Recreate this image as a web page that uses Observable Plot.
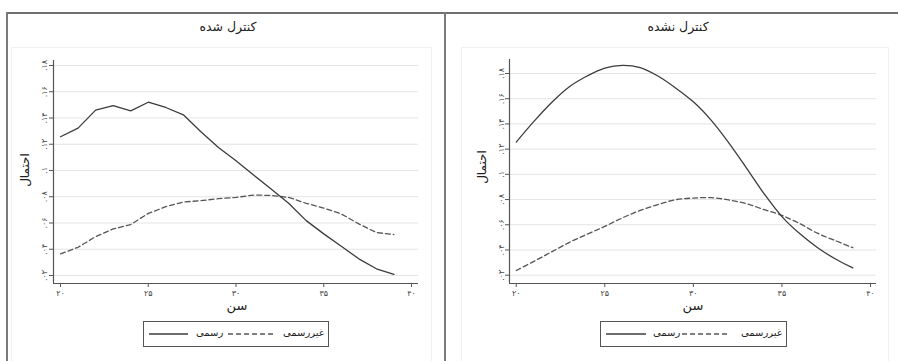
<!DOCTYPE html>
<html><head><meta charset="utf-8">
<script src="https://cdn.jsdelivr.net/npm/d3@7"></script>
<script src="https://cdn.jsdelivr.net/npm/@observablehq/plot@0.6"></script>
<style>
html,body{margin:0;padding:0;background:#fff;}
body{width:898px;height:361px;position:relative;overflow:hidden;font-family:"DejaVu Sans",sans-serif;color:#333;}
.abs{position:absolute;}
.fa{direction:rtl;white-space:nowrap;}
.title{font-size:12.5px;text-align:center;top:19px;height:16px;line-height:16px;color:#222;}
.ytitle{font-size:12px;width:60px;height:16px;line-height:16px;text-align:center;transform:rotate(-90deg);color:#222;}
.xtitle{font-size:13px;width:40px;text-align:center;top:298px;height:16px;line-height:16px;color:#222;}
.legend{border:1px solid #555;height:24px;top:321px;background:#fff;}
.legend .t{position:absolute;top:4px;font-size:10px;line-height:14px;color:#222;}
</style></head><body>
<script>
// ---- data ----
const ages = [20,21,22,23,24,25,26,27,28,29,30,31,32,33,34,35,36,37,38,39];
// Left panel: controlled (کنترل شده)
const leftFormal   = [.1257,.1323,.1460,.1494,.1454,.1520,.1480,.1424,.1295,.1175,.1075,.0965,.0859,.0750,.0618,.0517,.0423,.0327,.0251,.0208];
const leftInformal = [.0365,.0415,.0496,.0555,.0588,.0673,.0724,.0760,.0770,.0785,.0795,.0813,.0810,.0795,.0750,.0714,.0669,.0593,.0527,.0512];
// Right panel: uncontrolled (کنترل نشده)
const rightFormal   = [.1256,.1420,.1570,.1695,.1780,.1843,.1865,.1847,.1780,.1685,.1575,.1430,.1250,.1050,.0845,.0665,.0530,.0420,.0330,.0258];
const rightInformal = [.0237,.0310,.0385,.0460,.0525,.0587,.0655,.0714,.0760,.0799,.0812,.0815,.0797,.0767,.0720,.0674,.0610,.0533,.0475,.0418];
const xTicks = [20,25,30,35,40];
const yTicks = [.02,.04,.06,.08,.10,.12,.14,.16,.18];
const titles = ["کنترل شده","کنترل نشده"];
const yLabel = "احتمال";
const xLabel = "سن";
const seriesNames = ["رسمی","غیررسمی"];

const faDigits = "۰۱۲۳۴۵۶۷۸۹";
const toFa = s => String(s).replace(/\d/g, c => faDigits[+c]);
const fmtX = d => toFa(d);
const fmtY = d => toFa(d.toFixed(2).replace(/0+$/,"").replace(/^0/,""));

function el(cls, style, html){
  const d = document.createElement("div");
  d.className = cls; Object.assign(d.style, style); if (html != null) d.innerHTML = html;
  document.body.appendChild(d); return d;
}

function panel(formal, informal, o){
  const data = ages.map((a,i)=>({age:a, formal:formal[i], informal:informal[i]}));
  const p = Plot.plot({
    width:o.width, height:310,
    marginLeft:o.ml, marginRight:o.mr, marginTop:o.mt, marginBottom:27,
    x:{domain:o.xd}, y:{domain:o.yd},
    style:{background:"transparent", fontFamily:"DejaVu Sans, sans-serif", fontSize:"8px", color:"#444", overflow:"visible"},
    marks:[
      Plot.gridY(yTicks, {stroke:"#e4e4e4", strokeOpacity:1}),
      Plot.ruleY([o.yd[0]], {stroke:"#555", strokeWidth:1.2}),
      Plot.ruleX([o.xd[0]], {stroke:"#555", strokeWidth:1.2}),
      Plot.axisX(xTicks, {tickSize:4, tickPadding:3, tickFormat:fmtX, label:null, stroke:"#555"}),
      Plot.axisY(yTicks, {tickSize:4, tickPadding:o.yp, tickRotate:-90, tickFormat:fmtY, label:null, stroke:"#555"}),
      Plot.line(data, {x:"age", y:"informal", stroke:"#555", strokeWidth:1.3, strokeDasharray:"5,3", curve:o.curve}),
      Plot.line(data, {x:"age", y:"formal", stroke:"#3c3c3c", strokeWidth:1.3, curve:o.curve})
    ]
  });
  p.style.position = "absolute"; p.style.left = o.left + "px"; p.style.top = "0px";
  document.body.appendChild(p);
}

// faint plot-region boxes
el("abs", {left:"11px", top:"47px", width:"419px", height:"320px", border:"1px solid #f1f1f1"});
el("abs", {left:"461px", top:"47px", width:"426px", height:"320px", border:"1px solid #f1f1f1"});

panel(leftFormal, leftInformal, {left:0, width:445, ml:53, mr:27, mt:60, xd:[19.6,40.4], yd:[.0139,.1838], yp:3, curve:"linear"});
panel(rightFormal, rightInformal, {left:445, width:453, ml:64, mr:22, mt:59, xd:[19.62,40.34], yd:[.0134,.1911], yp:2, curve:"catmull-rom"});

// frame lines
el("abs", {left:"6px", top:"12px", width:"892px", height:"0", borderTop:"2px solid #707070"});
el("abs", {left:"6px", top:"12px", width:"0", height:"349px", borderLeft:"2px solid #7a7a7a"});
el("abs", {left:"444px", top:"12px", width:"0", height:"349px", borderLeft:"2px solid #7a7a7a"});

// titles
el("abs title fa", {left:"10px", width:"436px"}, titles[0]);
el("abs title fa", {left:"460px", width:"436px"}, titles[1]);
// y titles
el("abs ytitle fa", {left:"-5px", top:"162px"}, yLabel);
el("abs ytitle fa", {left:"452px", top:"159px"}, yLabel);
// x titles
el("abs xtitle fa", {left:"217px"}, xLabel);
el("abs xtitle fa", {left:"673px"}, xLabel);

// legends
function legend(left, w, pos){
  const box = el("abs legend", {left:left+"px", width:w+"px"});
  const svgNS = "http://www.w3.org/2000/svg";
  const mk = (x1,x2,dash)=>{
    const s = document.createElementNS(svgNS,"svg");
    s.setAttribute("width", x2-x1); s.setAttribute("height", 4);
    s.style.position="absolute"; s.style.left=x1+"px"; s.style.top="10px";
    const l = document.createElementNS(svgNS,"line");
    l.setAttribute("x1",0); l.setAttribute("x2",x2-x1); l.setAttribute("y1",2); l.setAttribute("y2",2);
    l.setAttribute("stroke", dash ? "#555" : "#3c3c3c"); l.setAttribute("stroke-width",1.3);
    if (dash) l.setAttribute("stroke-dasharray","5,3");
    s.appendChild(l); box.appendChild(s);
  };
  mk(pos[0], pos[1], false);
  const t1 = document.createElement("div"); t1.className="t fa"; t1.style.left=pos[2]+"px"; t1.textContent=seriesNames[0]; box.appendChild(t1);
  mk(pos[3], pos[4], true);
  const t2 = document.createElement("div"); t2.className="t fa"; t2.style.left=pos[5]+"px"; t2.textContent=seriesNames[1]; box.appendChild(t2);
}
legend(143, 184, [5,44,52,84,130,139]);
legend(600, 185, [5,45,52,81,128,140]);
</script>
</body></html>
